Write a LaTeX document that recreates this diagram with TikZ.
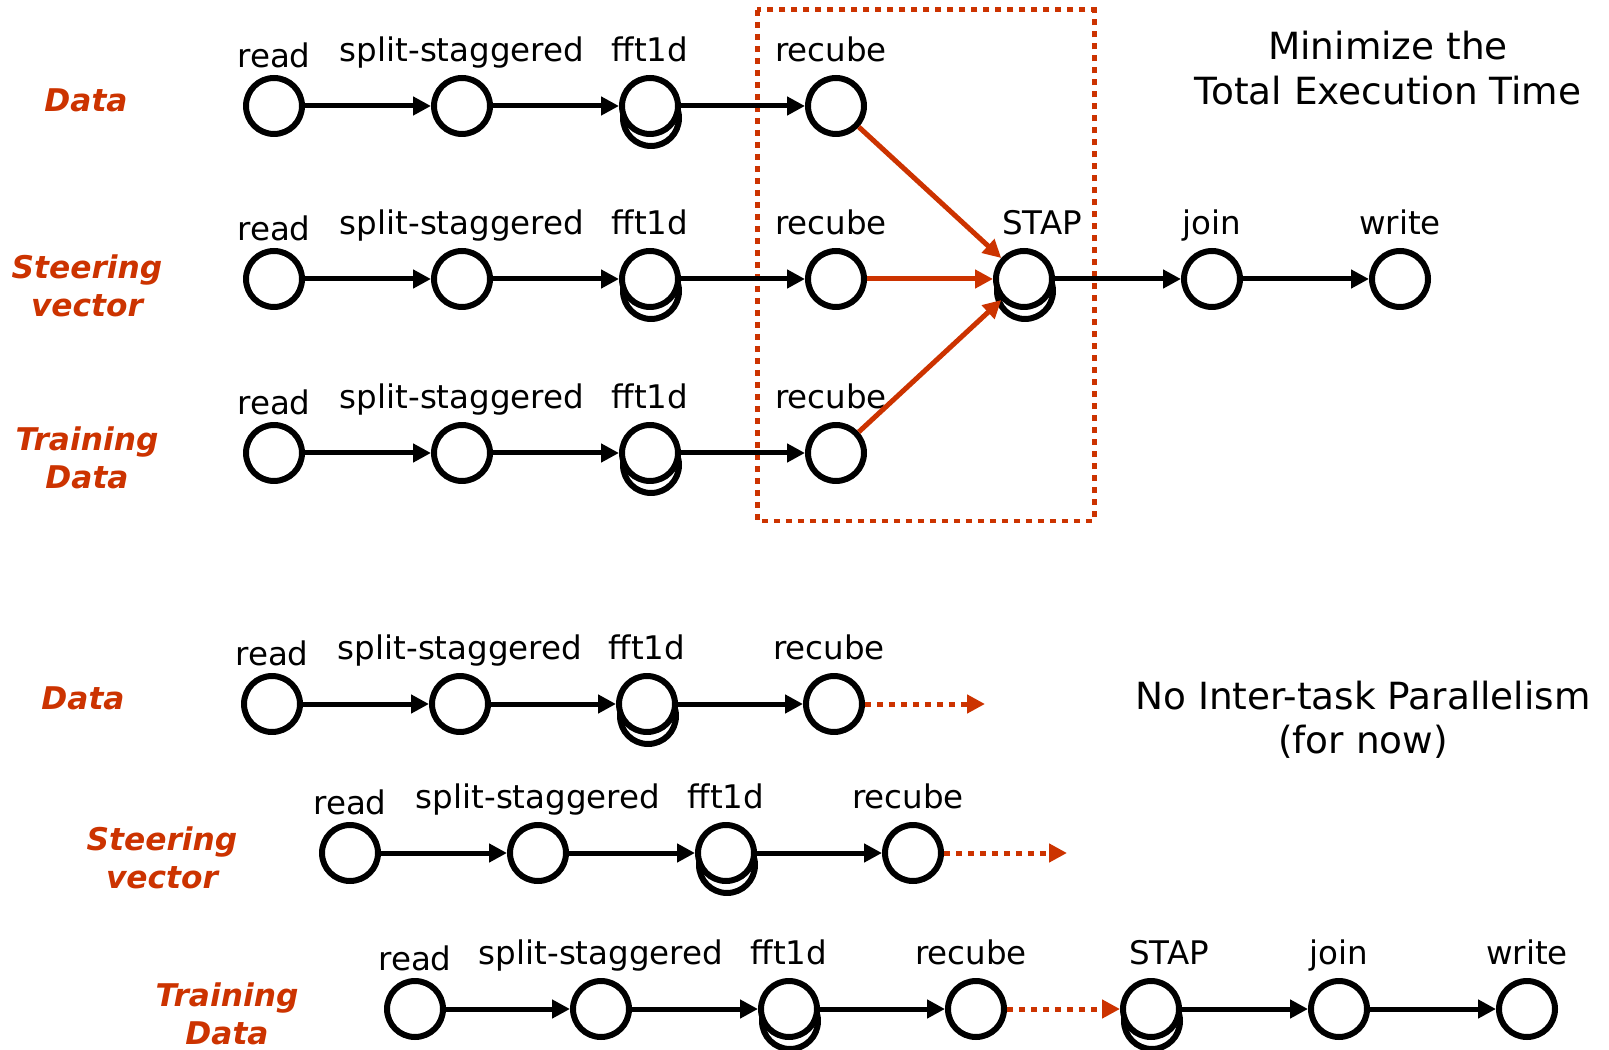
\documentclass[tikz,border=0pt]{standalone}
\usepackage{fontspec}
\setmainfont{DejaVu Sans}
\usepackage{xcolor}
\usepackage{tikz}
\usetikzlibrary{arrows.meta, positioning, calc, shadows}
\definecolor{stapred}{RGB}{204,51,0}
\newcommand{\tasksize}{\fontsize{18.5}{22}\selectfont}
\newcommand{\groupsize}{\fontsize{17.8}{21.6}\selectfont\bfseries\itshape}
\newcommand{\notesize}{\fontsize{21.3}{25.2}\selectfont}

\begin{document}
\begin{tikzpicture}[
    x=0.02cm, y=-0.02cm,
    task/.style={circle, draw=black, line width=0.12cm, fill=white, minimum size=1.12cm, inner sep=0pt},
    stacked/.style={task, copy shadow={shadow xshift=0.02cm, shadow yshift=-0.24cm, draw=black, line width=0.12cm, fill=white}},
    every label/.style={font=\tasksize, text=black, inner sep=0pt, outer sep=0pt, text height=0.48cm, text depth=0.14cm},
    label distance=0.14cm,
    group/.style={font=\groupsize, text=stapred, align=center},
    note/.style={font=\notesize, align=center},
    flow/.style={-{Triangle[length=0.36cm, width=0.36cm]}, line width=0.1cm},
    merge/.style={flow, stapred},
    pending/.style={flow, stapred, dash pattern=on 0.12cm off 0.12cm},
    region/.style={draw=stapred, line width=0.1cm, dash pattern=on 0.12cm off 0.12cm}
]
\useasboundingbox (0,0) rectangle (1609,1050);

% Recube + STAP region
\draw[region] (757,10) rectangle (1094,521);

% Upper graph: row labels
\node[group] (dlbl) at (86,100) {Data};
\node[group] (slbl) at (87,286) {Steering\\vector};
\node[group] (tlbl) at (87,458) {Training\\Data};

% Upper graph: data chain
\node[task, label={[label distance=0.02cm]above:read}] (dread) at (274,106) {};
\node[task, label=above:split-staggered] (dsplit) at (462,106) {};
\node[stacked, label=above:fft1d] (dfft) at (650,106) {};
\node[task, label={[xshift=-0.1cm]above:recube}] (drecube) at (836,106) {};

% Upper graph: steering vector chain
\node[task, label={[label distance=0.02cm]above:read}] (sread) at (274,279) {};
\node[task, label=above:split-staggered] (ssplit) at (462,279) {};
\node[stacked, label=above:fft1d] (sfft) at (650,279) {};
\node[task, label={[xshift=-0.1cm]above:recube}] (srecube) at (836,279) {};
\node[stacked, label={[xshift=0.36cm]above:STAP}] (stap) at (1024,279) {};
\node[task, label=above:join] (join) at (1212,279) {};
\node[task, label=above:write] (write) at (1400,279) {};

% Upper graph: training data chain
\node[task, label={[label distance=0.02cm]above:read}] (tread) at (274,453) {};
\node[task, label=above:split-staggered] (tsplit) at (462,453) {};
\node[stacked, label=above:fft1d] (tfft) at (650,453) {};
\node[task, label={[xshift=-0.1cm]above:recube}] (trecube) at (836,453) {};

\draw[flow] (dread) -- (dsplit);
\draw[flow] (dsplit) -- (dfft);
\draw[flow] (dfft) -- (drecube);
\draw[flow] (sread) -- (ssplit);
\draw[flow] (ssplit) -- (sfft);
\draw[flow] (sfft) -- (srecube);
\draw[flow] (tread) -- (tsplit);
\draw[flow] (tsplit) -- (tfft);
\draw[flow] (tfft) -- (trecube);
\draw[merge] (drecube) -- (stap);
\draw[merge] (srecube) -- (stap);
\draw[merge] (trecube) -- (stap);
\draw[flow] (stap) -- (join);
\draw[flow] (join) -- (write);

\node[note] (goal) at (1388,68) {Minimize the\\Total Execution Time};

% Lower graph: row labels
\node[group] (dlbl2) at (83,698) {Data};
\node[group] (slbl2) at (162,858) {Steering\\vector};
\node[group] (tlbl2) at (227,1014) {Training\\Data};

% Lower graph: data chain
\node[task, label={[label distance=0.02cm]above:read}] (dread2) at (272,704) {};
\node[task, label=above:split-staggered] (dsplit2) at (460,704) {};
\node[stacked, label=above:fft1d] (dfft2) at (647,704) {};
\node[task, label={[xshift=-0.1cm]above:recube}] (drecube2) at (834,704) {};
\coordinate (dend) at (985,704);

% Lower graph: steering vector chain
\node[task, label={[label distance=0.02cm]above:read}] (sread2) at (350,853) {};
\node[task, label=above:split-staggered] (ssplit2) at (538,853) {};
\node[stacked, label=above:fft1d] (sfft2) at (726,853) {};
\node[task, label={[xshift=-0.1cm]above:recube}] (srecube2) at (913,853) {};
\coordinate (send) at (1067,853);

% Lower graph: training data chain
\node[task, label={[label distance=0.02cm]above:read}] (tread2) at (415,1009) {};
\node[task, label=above:split-staggered] (tsplit2) at (601,1009) {};
\node[stacked, label=above:fft1d] (tfft2) at (789,1009) {};
\node[task, label={[xshift=-0.1cm]above:recube}] (trecube2) at (976,1009) {};
\node[stacked, label={[xshift=0.36cm]above:STAP}] (stap2) at (1151,1009) {};
\node[task, label=above:join] (join2) at (1339,1009) {};
\node[task, label=above:write] (write2) at (1527,1009) {};

\draw[flow] (dread2) -- (dsplit2);
\draw[flow] (dsplit2) -- (dfft2);
\draw[flow] (dfft2) -- (drecube2);
\draw[pending] (drecube2) -- (dend);
\draw[flow] (sread2) -- (ssplit2);
\draw[flow] (ssplit2) -- (sfft2);
\draw[flow] (sfft2) -- (srecube2);
\draw[pending] (srecube2) -- (send);
\draw[flow] (tread2) -- (tsplit2);
\draw[flow] (tsplit2) -- (tfft2);
\draw[flow] (tfft2) -- (trecube2);
\draw[pending] (trecube2) -- (stap2);
\draw[flow] (stap2) -- (join2);
\draw[flow] (join2) -- (write2);

\node[note] (nopar) at (1363,720) {No Inter-task Parallelism\\(for now)};

\end{tikzpicture}
\end{document}
